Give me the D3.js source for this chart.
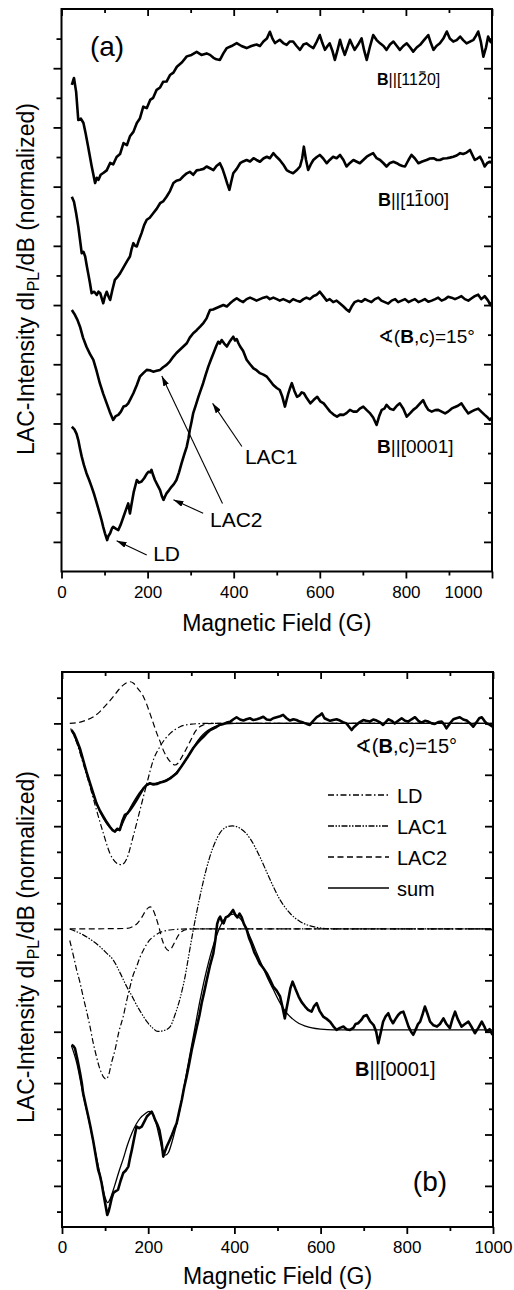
<!DOCTYPE html>
<html><head><meta charset="utf-8">
<script src="https://cdn.jsdelivr.net/npm/d3@7"></script>
<style>
body{margin:0;background:#fff}
svg text{font-family:"Liberation Sans",Arial,Helvetica,sans-serif;fill:#000}
</style>
</head><body>
<svg id="chart" width="514" height="1290"></svg>
<script>
// ---------- tick values ----------
const fieldMajor = [0,200,400,600,800,1000];
const fieldMinor = [100,300,500,700,900];
const aYMajor = [1,3,5,7,9,11,13,15,17];
const aYMinor = [2,4,6,8,10,12,14,16,18];
const bYMajor = [-10,-8,-6,-4,-2,0,2,4,6,8];
const bYMinor = [-11,-9,-7,-5,-3,-1,1,3,5,7,9];

// ---------- panel (a) data: [field G, normalized intensity] ----------
const a1120 = [[24,16.44],[29,16.67],[34,16.2],[39,15.25],[45,15.3],[51,15.15],[56,14.8],[62,14.34],[70,13.7],[78,13.12],[82,13.3],[86,13.23],[91,13.4],[97,13.46],[105,13.55],[113,13.8],[120,13.75],[128,14.0],[136,14.1],[144,14.47],[152,14.4],[159,14.7],[167,14.85],[175,15.15],[182,15.3],[190,15.7],[198,15.65],[206,15.93],[213,16.0],[221,16.27],[229,16.35],[236,16.54],[244,16.55],[252,16.77],[260,16.85],[268,17.05],[280,17.2],[291,17.4],[302,17.45],[314,17.55],[325,17.45],[337,17.5],[345,17.45],[353,17.35],[360,17.3],[368,17.28],[376,17.5],[384,17.68],[395,17.75],[407,17.85],[418,17.75],[430,17.68],[441,17.75],[453,17.8],[461,17.75],[469,17.9],[477,18.0],[484,18.23],[490,18.0],[496,17.85],[507,17.96],[515,17.85],[523,17.79],[530,17.9],[538,17.9],[546,17.75],[554,17.62],[562,17.8],[569,17.84],[577,17.75],[585,17.68],[593,17.9],[600,18.12],[606,17.85],[612,17.62],[618,17.75],[623,17.84],[629,17.6],[635,17.28],[641,17.6],[647,17.96],[652,17.7],[658,17.45],[664,17.7],[670,17.96],[675,17.8],[681,17.62],[689,17.8],[697,18.01],[703,17.6],[709,17.28],[716,17.7],[724,18.12],[732,17.95],[740,17.84],[748,17.75],[755,17.62],[763,17.8],[771,17.9],[779,17.75],[786,17.62],[794,17.75],[802,17.84],[810,17.7],[817,17.56],[825,17.7],[833,17.79],[842,17.95],[852,18.12],[858,17.85],[864,17.62],[871,17.75],[879,17.84],[887,18.0],[895,18.24],[902,18.0],[910,17.9],[918,17.95],[926,18.07],[933,17.95],[941,17.84],[949,17.9],[957,17.96],[963,18.1],[968,18.24],[974,17.9],[980,17.39],[986,17.7],[991,18.07],[996,17.9],[1000,17.85]];

const a1100 = [[24,12.66],[29,12.49],[34,12.1],[39,11.65],[43,11.2],[47,10.75],[51,10.8],[55,10.64],[59,10.3],[62,10.07],[66,9.75],[70,9.4],[76,9.45],[82,9.34],[86,9.45],[90,9.4],[94,9.2],[97,9.06],[101,9.3],[105,9.45],[109,9.3],[113,9.17],[118,9.5],[124,9.85],[130,9.95],[136,10.07],[141,10.2],[147,10.35],[153,10.5],[159,10.64],[163,10.9],[167,11.09],[171,11.0],[175,10.98],[180,11.2],[186,11.43],[192,11.7],[198,11.88],[205,11.95],[213,12.1],[221,12.25],[229,12.44],[236,12.5],[244,12.66],[252,12.85],[260,13.12],[267,13.2],[275,13.23],[283,13.35],[291,13.45],[298,13.5],[306,13.4],[314,13.55],[322,13.57],[330,13.6],[337,13.68],[345,13.62],[353,13.56],[360,13.7],[368,13.79],[374,13.6],[380,13.34],[385,13.1],[390,12.89],[394,13.15],[399,13.45],[407,13.6],[415,13.79],[422,13.85],[430,13.9],[438,13.85],[446,13.96],[453,13.9],[461,13.84],[469,13.95],[477,14.01],[484,13.96],[492,14.13],[500,14.0],[507,13.9],[515,13.75],[523,13.56],[530,13.5],[538,13.45],[546,13.55],[554,13.68],[559,13.95],[563,14.35],[568,13.9],[573,13.56],[579,13.75],[585,13.9],[593,14.0],[600,14.07],[608,13.95],[616,13.79],[623,13.9],[631,14.01],[639,13.96],[647,14.07],[655,13.9],[662,13.68],[670,13.8],[678,13.9],[686,13.84],[693,13.79],[701,13.9],[709,14.01],[716,14.07],[724,14.13],[732,13.96],[740,13.9],[748,13.79],[755,13.68],[763,13.8],[771,13.84],[779,13.79],[786,13.73],[792,13.7],[798,13.68],[806,13.9],[813,14.07],[821,13.95],[829,13.79],[838,13.85],[848,13.9],[856,13.95],[864,13.96],[872,13.9],[879,13.9],[887,13.95],[895,13.96],[902,13.98],[910,14.01],[918,14.05],[926,14.13],[933,14.1],[941,14.15],[949,14.24],[955,14.05],[960,13.9],[966,13.95],[972,14.01],[978,13.85],[983,13.68],[989,13.8],[995,13.84],[1000,13.8]];

const a15deg = [[24,8.83],[30,8.7],[37,8.5],[43,8.27],[50,7.9],[58,7.59],[66,7.35],[74,7.15],[81,6.8],[89,6.36],[97,6.0],[105,5.68],[112,5.4],[120,5.12],[126,5.25],[132,5.29],[138,5.4],[144,5.57],[150,5.6],[155,5.68],[161,5.85],[167,6.02],[175,6.3],[182,6.58],[190,6.7],[198,6.81],[205,6.8],[213,6.75],[221,6.78],[229,6.81],[236,6.9],[244,6.98],[252,7.1],[260,7.26],[267,7.38],[275,7.49],[283,7.6],[291,7.71],[298,7.9],[306,8.05],[314,8.15],[322,8.27],[330,8.4],[337,8.55],[341,8.7],[345,8.83],[352,8.85],[360,8.9],[368,8.95],[376,9.0],[384,8.95],[391,9.05],[399,9.15],[407,9.23],[415,9.15],[422,9.1],[430,9.2],[438,9.25],[446,9.2],[453,9.15],[461,9.2],[469,9.25],[477,9.28],[484,9.2],[492,9.25],[500,9.2],[507,9.15],[515,9.2],[523,9.15],[530,9.1],[538,9.2],[546,9.15],[554,9.11],[562,9.2],[569,9.25],[577,9.2],[585,9.3],[593,9.35],[600,9.45],[608,9.3],[616,9.15],[623,9.2],[631,9.1],[639,9.15],[647,9.05],[655,8.95],[662,8.85],[668,8.78],[674,8.95],[681,9.1],[689,9.15],[697,9.11],[705,9.2],[712,9.15],[720,9.1],[728,9.2],[736,9.25],[743,9.15],[751,9.1],[759,9.05],[767,9.15],[775,9.2],[782,9.1],[790,9.15],[798,9.2],[806,9.1],[813,9.15],[821,9.2],[829,9.1],[837,9.15],[844,9.2],[852,9.11],[860,9.15],[868,9.2],[875,9.25],[883,9.15],[891,9.2],[898,9.28],[906,9.25],[914,9.2],[922,9.25],[929,9.3],[937,9.2],[945,9.15],[952,9.22],[960,9.3],[968,9.35],[975,9.2],[983,9.3],[991,9.15],[996,9.0],[1000,9.1]];

const a0001 = [[24,4.89],[30,4.8],[35,4.65],[39,4.44],[43,4.15],[47,3.88],[52,3.6],[58,3.32],[64,3.1],[70,2.86],[76,2.6],[82,2.3],[88,2.0],[93,1.74],[97,1.5],[101,1.29],[104,1.15],[106,1.06],[109,1.2],[113,1.29],[117,1.45],[120,1.51],[126,1.45],[132,1.4],[138,1.6],[144,1.85],[150,2.1],[155,2.3],[159,1.96],[163,2.3],[168,2.7],[175,3.09],[180,3.0],[186,3.04],[192,3.15],[198,3.3],[202,3.37],[206,3.35],[209,3.43],[213,3.25],[217,3.09],[223,2.92],[229,2.75],[233,2.55],[237,2.42],[241,2.55],[244,2.64],[250,2.75],[256,2.87],[261,2.95],[267,3.09],[273,3.35],[279,3.66],[285,3.95],[291,4.22],[295,4.5],[298,4.78],[302,5.05],[306,5.35],[312,5.62],[318,5.9],[324,6.15],[329,6.36],[335,6.65],[341,6.92],[347,7.15],[353,7.37],[359,7.6],[364,7.76],[368,7.7],[372,7.82],[378,7.7],[384,7.6],[390,7.75],[395,7.85],[399,7.93],[403,7.8],[407,7.85],[411,7.71],[415,7.6],[422,7.45],[430,7.15],[438,7.0],[446,6.86],[453,6.8],[461,6.7],[469,6.65],[477,6.58],[484,6.45],[492,6.3],[500,6.2],[507,6.13],[513,5.9],[519,5.57],[523,5.8],[527,6.02],[531,6.2],[535,6.36],[541,6.1],[547,5.9],[553,5.95],[558,6.05],[563,6.02],[570,5.85],[578,5.68],[586,5.8],[594,5.9],[601,5.75],[609,5.68],[616,5.55],[624,5.4],[632,5.3],[640,5.23],[647,5.3],[655,5.29],[662,5.35],[670,5.46],[678,5.4],[686,5.4],[693,5.5],[701,5.57],[709,5.45],[717,5.34],[724,5.2],[732,4.95],[738,5.25],[744,5.46],[750,5.5],[755,5.63],[763,5.5],[771,5.46],[779,5.6],[786,5.68],[794,5.5],[802,5.23],[810,5.35],[817,5.46],[825,5.55],[833,5.68],[840,5.79],[846,5.6],[852,5.46],[860,5.4],[868,5.45],[875,5.46],[883,5.4],[891,5.34],[898,5.4],[906,5.5],[913,5.55],[921,5.6],[929,5.68],[937,5.5],[945,5.34],[952,5.4],[960,5.46],[968,5.5],[975,5.4],[983,5.29],[990,5.2],[995,5.12],[1000,5.2]];

// ---------- panel (b) data ----------
const b15deg = [[22,7.74],[28,7.6],[34,7.35],[42,7.0],[49,6.58],[57,6.1],[65,5.67],[72,5.3],[80,4.89],[88,4.6],[96,4.37],[104,4.15],[111,3.98],[117,3.85],[123,3.79],[128,3.9],[134,3.85],[140,4.2],[146,4.44],[152,4.5],[158,4.63],[165,4.8],[173,5.02],[181,5.25],[189,5.47],[196,5.6],[204,5.67],[212,5.62],[220,5.64],[228,5.7],[235,5.73],[243,5.78],[251,5.86],[258,5.95],[266,6.06],[274,6.25],[282,6.45],[290,6.65],[297,6.84],[305,7.05],[313,7.22],[320,7.35],[328,7.48],[336,7.62],[344,7.74],[351,7.8],[359,7.87],[367,7.95],[375,7.98],[382,8.03],[390,8.06],[397,8.15],[405,8.24],[413,8.15],[421,8.11],[428,8.16],[436,8.2],[444,8.13],[452,8.16],[459,8.2],[467,8.26],[475,8.15],[483,8.13],[490,8.2],[498,8.24],[506,8.28],[513,8.33],[521,8.2],[529,8.11],[537,8.16],[544,8.13],[552,8.07],[560,8.03],[568,7.98],[575,7.94],[583,8.1],[591,8.24],[597,8.3],[603,8.39],[609,8.2],[614,8.16],[622,8.1],[629,8.13],[637,8.16],[645,8.11],[652,8.05],[660,8.0],[666,7.87],[672,7.74],[677,7.85],[683,7.94],[691,8.05],[699,8.13],[706,8.1],[714,8.07],[722,8.15],[730,8.11],[737,8.05],[745,7.94],[751,8.05],[757,8.16],[765,8.1],[772,8.0],[780,8.1],[788,8.2],[796,8.1],[803,8.07],[811,8.16],[819,8.24],[827,8.1],[834,8.03],[842,8.1],[850,8.07],[858,8.0],[865,7.98],[873,8.05],[881,8.07],[887,7.95],[892,7.81],[900,8.0],[908,8.16],[915,8.2],[923,8.24],[931,8.15],[939,8.11],[947,8.0],[954,7.87],[962,8.05],[968,8.2],[974,8.24],[980,8.1],[985,8.0],[992,7.95],[999,7.87]];

const b0001 = [[22,-4.51],[26,-4.55],[30,-4.64],[36,-5.1],[42,-5.62],[46,-6.0],[49,-6.39],[55,-6.85],[61,-7.3],[66,-7.7],[72,-8.21],[78,-8.8],[84,-9.38],[88,-9.6],[92,-9.9],[96,-10.3],[100,-10.67],[105,-11.13],[108,-11.0],[111,-10.8],[115,-10.5],[119,-10.28],[125,-10.2],[130,-10.15],[136,-9.8],[142,-9.5],[148,-9.4],[154,-9.25],[158,-8.9],[162,-8.6],[168,-8.1],[173,-7.69],[179,-7.75],[185,-7.69],[191,-7.5],[197,-7.3],[203,-7.2],[208,-7.11],[212,-7.25],[216,-7.43],[221,-7.6],[226,-7.82],[231,-8.3],[235,-8.86],[239,-8.65],[243,-8.47],[249,-8.25],[255,-8.02],[260,-7.8],[266,-7.56],[272,-7.1],[278,-6.65],[283,-6.2],[289,-5.75],[295,-5.25],[301,-4.71],[307,-4.25],[313,-3.8],[319,-3.35],[324,-2.89],[330,-2.45],[336,-1.98],[343,-1.45],[351,-0.95],[356,-0.4],[360,0.2],[364,0.4],[367,0.48],[371,0.3],[375,0.22],[380,0.45],[386,0.5],[391,0.6],[397,0.74],[402,0.55],[407,0.45],[412,0.6],[417,0.45],[422,0.2],[428,0.0],[434,-0.35],[440,-0.6],[446,-0.9],[452,-1.1],[459,-1.35],[466,-1.5],[475,-1.72],[482,-1.95],[490,-2.24],[498,-2.4],[506,-2.63],[511,-3.0],[517,-3.48],[521,-3.1],[525,-2.76],[530,-2.3],[535,-2.05],[542,-2.35],[549,-2.63],[556,-2.85],[564,-3.02],[571,-3.15],[579,-3.22],[585,-3.0],[591,-2.89],[598,-3.2],[606,-3.41],[614,-3.5],[622,-3.61],[630,-3.8],[637,-3.93],[645,-3.85],[653,-3.8],[660,-3.9],[668,-3.93],[676,-3.85],[681,-3.7],[687,-3.67],[694,-3.55],[700,-3.4],[707,-3.35],[715,-3.6],[723,-3.74],[729,-4.0],[734,-4.45],[740,-4.0],[745,-3.61],[751,-3.4],[757,-3.28],[762,-3.5],[768,-3.67],[774,-3.5],[780,-3.35],[786,-3.25],[792,-3.22],[798,-3.5],[804,-3.8],[810,-4.0],[815,-4.12],[821,-3.9],[826,-3.7],[831,-3.61],[837,-3.3],[842,-3.02],[848,-3.3],[854,-3.61],[862,-3.75],[870,-3.8],[877,-3.7],[885,-3.48],[892,-3.7],[900,-3.86],[906,-3.5],[912,-3.22],[918,-3.5],[927,-3.8],[935,-3.7],[943,-3.61],[950,-3.8],[958,-4.06],[966,-3.85],[974,-3.61],[980,-3.8],[985,-4.0],[992,-3.9],[999,-4.12]];

// fit components (panel b)
const ldTop = [[20,7.8],[34,7.25],[49,6.45],[65,5.54],[80,4.63],[96,3.72],[111,2.95],[127,2.56],[138,2.5],[150,2.72],[165,3.59],[181,4.63],[197,5.67],[212,6.58],[227,7.09],[251,7.61],[274,7.87],[300,7.97],[336,8.0],[1000,8.0]];
const lac2Top = [[18,8.0],[40,8.04],[57,8.13],[72,8.25],[88,8.46],[104,8.75],[119,9.04],[131,9.3],[142,9.49],[150,9.58],[158,9.62],[166,9.56],[173,9.42],[181,9.25],[189,9.04],[197,8.72],[204,8.39],[212,8.0],[220,7.61],[228,7.28],[235,6.96],[243,6.7],[251,6.51],[257,6.42],[262,6.38],[269,6.45],[277,6.66],[285,6.9],[293,7.16],[301,7.42],[309,7.68],[318,7.85],[328,7.94],[340,7.99],[351,8.0],[1000,8.0]];
const sumTop = [[22,7.74],[34,7.3],[49,6.55],[65,5.65],[80,4.88],[96,4.3],[111,3.95],[123,3.82],[134,3.9],[146,4.3],[158,4.7],[170,5.05],[182,5.35],[194,5.55],[206,5.65],[218,5.67],[230,5.72],[242,5.8],[254,5.92],[266,6.1],[278,6.35],[290,6.65],[302,6.98],[314,7.3],[326,7.55],[338,7.72],[350,7.84],[365,7.93],[380,7.98],[400,8.0],[1000,8.0]];
const ldBot = [[18,-0.45],[28,-1.15],[34,-1.6],[42,-2.1],[49,-2.63],[57,-3.2],[65,-3.8],[72,-4.4],[80,-4.97],[86,-5.35],[92,-5.62],[97,-5.78],[102,-5.84],[108,-5.7],[115,-5.2],[123,-4.71],[132,-4.0],[142,-3.41],[150,-2.8],[158,-2.24],[165,-1.8],[173,-1.47],[181,-1.1],[189,-0.82],[200,-0.5],[212,-0.3],[230,-0.12],[250,-0.04],[289,0],[1000,0]];
const lac1Bot = [[18,0],[49,-0.23],[70,-0.45],[88,-0.69],[104,-0.95],[119,-1.21],[135,-1.72],[150,-2.24],[162,-2.6],[173,-2.96],[185,-3.3],[197,-3.61],[210,-3.85],[222,-3.99],[237,-3.95],[251,-3.8],[263,-3.3],[274,-2.7],[285,-1.9],[295,-0.95],[305,0.0],[320,1.26],[336,2.4],[351,3.2],[367,3.75],[382,3.97],[395,4.01],[413,3.92],[436,3.53],[459,2.81],[483,1.91],[506,1.13],[529,0.61],[552,0.29],[583,0.09],[620,0.01],[660,0],[1000,0]];
const lac2Bot = [[18,0],[150,0.02],[165,0.1],[175,0.22],[185,0.45],[193,0.68],[200,0.82],[205,0.86],[211,0.75],[218,0.45],[226,0.0],[233,-0.45],[240,-0.72],[247,-0.84],[254,-0.75],[262,-0.5],[270,-0.25],[278,-0.1],[290,-0.02],[305,0],[1000,0]];
const sumBot = [[22,-4.55],[34,-5.2],[49,-6.45],[65,-7.65],[80,-8.9],[92,-9.85],[100,-10.45],[106,-10.65],[113,-10.45],[122,-10.0],[132,-9.45],[142,-8.95],[152,-8.4],[162,-7.95],[172,-7.6],[182,-7.35],[192,-7.2],[202,-7.1],[210,-7.2],[218,-7.55],[226,-8.1],[233,-8.6],[240,-8.8],[247,-8.7],[255,-8.3],[263,-7.8],[272,-7.15],[281,-6.35],[290,-5.5],[300,-4.6],[310,-3.7],[320,-2.8],[330,-2.0],[340,-1.3],[350,-0.7],[360,-0.2],[370,0.2],[380,0.45],[390,0.55],[398,0.58],[406,0.52],[416,0.35],[428,0.0],[440,-0.45],[452,-0.95],[465,-1.45],[478,-1.95],[490,-2.35],[505,-2.85],[520,-3.25],[535,-3.5],[550,-3.68],[565,-3.78],[580,-3.85],[600,-3.9],[630,-3.93],[1000,-3.93]];

// annotations (data coordinates)
const arrowsA = [
  {from:[198,0.56], to:[128,1.04]},
  {from:[329,1.97], to:[260,2.42]},
  {from:[374,2.3],  to:[233,6.6]},
  {from:[419,4.22], to:[351,5.68]}
];
const arrowLabelsA = [
  {text:"LD",   at:[213,0.35]},
  {text:"LAC2", at:[345,1.5]},
  {text:"LAC1", at:[426,3.63]}
];
const legendNames = ["LD","LAC1","LAC2","sum"];

// ---------- drawing ----------
const svg = d3.select("#chart");
const FONT = '"Liberation Sans",Arial,Helvetica,sans-serif';

svg.append("defs").append("marker")
  .attr("id","ah").attr("viewBox","0 0 10 6").attr("refX",10).attr("refY",3)
  .attr("markerWidth",10).attr("markerHeight",6).attr("markerUnits","userSpaceOnUse")
  .attr("orient","auto")
  .append("path").attr("d","M0,0 L10,3 L0,6 Z").attr("fill","#000");

const xa = d3.scaleLinear().domain([0,1000]).range([61.5,492]);
const ya = d3.scaleLinear().domain([0,19]).range([571.5,9]);
const xb = d3.scaleLinear().domain([0,1000]).range([62,493]);
const yb = d3.scaleLinear().domain([-11.6,10]).range([1227,672]);

function styleAxis(g){
  g.select(".domain").remove();
  g.selectAll("line").attr("stroke","#000").attr("stroke-width",1.8);
  g.attr("font-family",FONT).attr("font-size",17);
  g.selectAll("text").attr("fill","#000");
}

function frame(x, y, yMaj, yMin, lastShift){
  const [x0,x1] = x.range(), [y0,y1] = y.range();
  const g = svg.append("g");
  const bot = g.append("g").attr("transform",`translate(0,${y0})`)
    .call(d3.axisBottom(x).tickValues(fieldMajor).tickSize(7).tickPadding(7).tickFormat(d3.format("d")));
  styleAxis(bot);
  if (lastShift) bot.selectAll(".tick text").filter(d=>d===1000).attr("dx",lastShift);
  g.append("g").attr("transform",`translate(0,${y0})`)
    .call(d3.axisBottom(x).tickValues(fieldMinor).tickSize(4).tickFormat("")).call(styleAxis);
  g.append("g").attr("transform",`translate(0,${y1})`)
    .call(d3.axisBottom(x).tickValues(fieldMajor).tickSize(7).tickFormat("")).call(styleAxis);
  g.append("g").attr("transform",`translate(0,${y1})`)
    .call(d3.axisBottom(x).tickValues(fieldMinor).tickSize(4).tickFormat("")).call(styleAxis);
  g.append("g").attr("transform",`translate(${x0},0)`)
    .call(d3.axisLeft(y).tickValues(yMaj).tickSize(8).tickFormat("")).call(styleAxis);
  g.append("g").attr("transform",`translate(${x0},0)`)
    .call(d3.axisLeft(y).tickValues(yMin).tickSize(5).tickFormat("")).call(styleAxis);
  g.append("g").attr("transform",`translate(${x1},0)`)
    .call(d3.axisLeft(y).tickValues(yMaj).tickSize(8).tickFormat("")).call(styleAxis);
  g.append("g").attr("transform",`translate(${x1},0)`)
    .call(d3.axisLeft(y).tickValues(yMin).tickSize(4).tickFormat("")).call(styleAxis);
  g.append("rect").attr("x",x0).attr("y",y1).attr("width",x1-x0).attr("height",y0-y1)
    .attr("fill","none").attr("stroke","#000").attr("stroke-width",2);
}

function titles(x, y, xTitleY, yTitleX, yTitleCenter){
  const [x0,x1] = x.range();
  svg.append("text").attr("x",(x0+x1)/2).attr("y",xTitleY).attr("text-anchor","middle")
    .attr("font-size",23).text("Magnetic Field (G)");
  const t = svg.append("text").attr("transform",`translate(${yTitleX},${yTitleCenter}) rotate(-90)`)
    .attr("text-anchor","middle").attr("font-size",23);
  t.append("tspan").text("LAC-Intensity dI");
  t.append("tspan").attr("font-size",16).attr("dy",5).text("PL");
  t.append("tspan").attr("dy",-5).text("/dB (normalized)");
}

// text label; parts may carry bold (b), font (f) or an over-bar (bar)
function label(x, y, at, parts, size){
  const bx = x(at[0]), by = y(at[1]);
  const t = svg.append("text").attr("x",bx).attr("y",by).attr("font-size",size);
  let idx = 0;
  const bars = [];
  parts.forEach(p=>{
    const s = t.append("tspan").text(p.t);
    if (p.b) s.attr("font-weight","bold");
    if (p.f) s.attr("font-family",p.f);
    if (p.bar) bars.push(idx);
    idx += p.t.length;
  });
  bars.forEach(i=>{
    const e = t.node().getExtentOfChar(i);
    const yy = by - size*0.84;
    svg.append("line").attr("x1",e.x+size*0.1).attr("x2",e.x+e.width-size*0.1)
      .attr("y1",yy).attr("y2",yy).attr("stroke","#000").attr("stroke-width",1.2);
  });
}

const lineOf = (x,y,curve) => d3.line().x(d=>x(d[0])).y(d=>y(d[1])).curve(curve||d3.curveLinear);
function trace(x,y,data,w,dash,curve){
  svg.append("path").datum(data).attr("d",lineOf(x,y,curve)).attr("fill","none")
    .attr("stroke","#000").attr("stroke-width",w).attr("stroke-linejoin","round")
    .attr("stroke-dasharray",dash||null);
}

// ===== panel (a) =====
frame(xa, ya, aYMajor, aYMinor, -29);
titles(xa, ya, 631, 34, 279);
[a1120, a1100, a15deg, a0001].forEach(d=>trace(xa,ya,d,2.6));

label(xa,ya,[733,16.42],[{t:"B",b:1},{t:"||[11"},{t:"2",bar:1},{t:"0]"}],16);
label(xa,ya,[735,12.35],[{t:"B",b:1},{t:"||[1"},{t:"1",bar:1},{t:"00]"}],18);
label(xa,ya,[735,7.72],[{t:"\u2222",f:"DejaVu Sans"},{t:"("},{t:"B",b:1},{t:",c)=15°"}],19);
label(xa,ya,[733,4.0],[{t:"B",b:1},{t:"||[0001]"}],19);
label(xa,ya,[66,17.4],[{t:"(a)"}],28);

arrowsA.forEach(a=>{
  svg.append("line").attr("x1",xa(a.from[0])).attr("y1",ya(a.from[1]))
    .attr("x2",xa(a.to[0])).attr("y2",ya(a.to[1]))
    .attr("stroke","#000").attr("stroke-width",1.1).attr("marker-end","url(#ah)");
});
arrowLabelsA.forEach(l=>label(xa,ya,l.at,[{t:l.text}],21));

// ===== panel (b) =====
frame(xb, yb, bYMajor, bYMinor, 0);
titles(xb, yb, 1284, 34, 947);

const dashLD = "6,2.5,1.5,2.5";
const dashLAC1 = "6,1.5,1.5,1.5,1.5,1.5";
const dashLAC2 = "6,3.5";
trace(xb,yb,ldTop,1.2,dashLD,d3.curveMonotoneX);
trace(xb,yb,lac2Top,1.2,dashLAC2,d3.curveMonotoneX);
trace(xb,yb,ldBot,1.2,dashLD,d3.curveMonotoneX);
trace(xb,yb,lac1Bot,1.2,dashLAC1,d3.curveMonotoneX);
trace(xb,yb,lac2Bot,1.2,dashLAC2,d3.curveMonotoneX);
trace(xb,yb,b15deg,2.6);
trace(xb,yb,b0001,2.6);
trace(xb,yb,sumTop,1.3,null,d3.curveMonotoneX);
trace(xb,yb,sumBot,1.3,null,d3.curveMonotoneX);

label(xb,yb,[680,6.85],[{t:"\u2222",f:"DejaVu Sans"},{t:"("},{t:"B",b:1},{t:",c)=15°"}],20);
label(xb,yb,[680,-5.72],[{t:"B",b:1},{t:"||[0001]"}],20);
label(xb,yb,[814,-10.2],[{t:"(b)"}],28);

// legend
const dashes = [dashLD, dashLAC1, dashLAC2, null];
const leg = svg.append("g");
legendNames.forEach((n,i)=>{
  const yy = 795 + i*31;
  leg.append("line").attr("x1",328).attr("x2",389).attr("y1",yy).attr("y2",yy)
    .attr("stroke","#000").attr("stroke-width",i===3?1.6:1.3).attr("stroke-dasharray",dashes[i]);
  leg.append("text").attr("x",397).attr("y",yy+8).attr("font-size",20).text(n);
});
</script>
</body></html>
